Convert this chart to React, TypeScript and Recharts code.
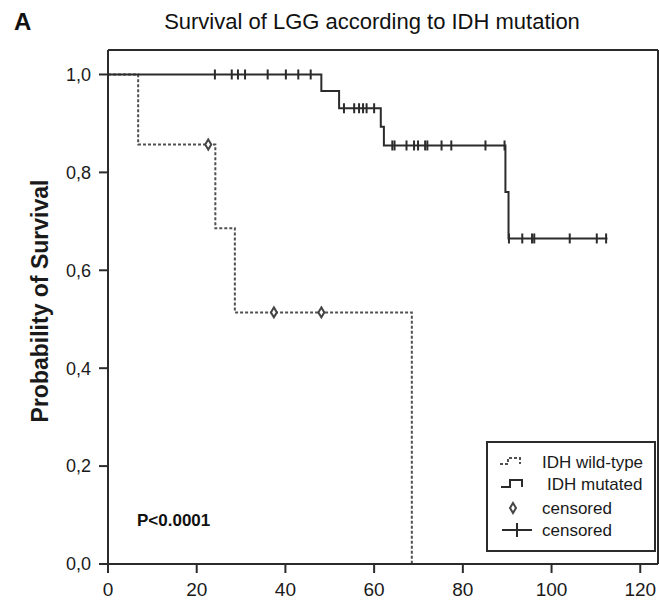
import { ComposedChart, Line, Scatter, XAxis, YAxis, ReferenceLine } from "recharts"

// Kaplan-Meier steps (months / survival)
const wildTimes = [0, 6.8, 24.2, 28.6, 68.5]
const wildSurv = [1, 0.857, 0.686, 0.514, 0]
const wildCensored = [22.6, 37.4, 48.1]

const mutTimes = [0, 48.1, 52.1, 61.5, 62.2, 89.6, 90.3, 112.6]
const mutSurv = [1, 0.966, 0.931, 0.893, 0.855, 0.76, 0.665, 0.665]
const mutCensored = [
  24.1, 27.9, 29.3, 30.9, 36.0, 40.1, 42.9, 45.7, 53.2, 55.5, 56.6, 57.5, 58.3, 60.0,
  64.1, 64.6, 67.3, 69.0, 69.9, 71.5, 72.0, 75.2, 77.4, 85.1, 89.4, 90.4, 93.4, 95.6,
  96.1, 104.1, 110.2, 112.3,
]

const xTicks = [0, 20, 40, 60, 80, 100, 120]
const yTicks = [0, 0.2, 0.4, 0.6, 0.8, 1.0]

const stepAt = (times: number[], surv: number[], t: number) => {
  let v = surv[0]
  for (let i = 0; i < times.length; i++) if (times[i] <= t) v = surv[i]
  return v
}

const wildData = wildTimes.map((x, i) => ({ x, y: wildSurv[i] }))
const mutData = mutTimes.map((x, i) => ({ x, y: mutSurv[i] }))
const wildCens = wildCensored.map((x) => ({ x, y: stepAt(wildTimes, wildSurv, x) }))
const mutCens = mutCensored.map((x) => ({ x, y: stepAt(mutTimes, mutSurv, x) }))

const FONT = "'Liberation Sans', Arial, sans-serif"
const INK = "#2b2b2b"

const Plus = (p: any) => (
  <line x1={p.cx} x2={p.cx} y1={p.cy - 5} y2={p.cy + 5} stroke={INK} strokeWidth={2} />
)
const Diamond = (p: any) => (
  <path
    d={`M${p.cx},${p.cy - 5} L${p.cx + 3},${p.cy} L${p.cx},${p.cy + 5} L${p.cx - 3},${p.cy} Z`}
    fill="#fff"
    stroke="#444"
    strokeWidth={2}
  />
)

export default function App() {
  return (
    <div style={{ position: "absolute", left: 0, top: 0, width: 659, height: 603, background: "#fff" }}>
      <ComposedChart width={659} height={603} margin={{ top: 50, right: 1, bottom: 0, left: 0 }}>
        <XAxis
          dataKey="x"
          type="number"
          domain={[0, 124]}
          ticks={xTicks}
          height={39}
          tickSize={9}
          tickMargin={10}
          axisLine={{ stroke: INK, strokeWidth: 2 }}
          tickLine={{ stroke: INK, strokeWidth: 2 }}
          tick={{ fill: "#1a1a1a", fontSize: 19, fontFamily: FONT }}
          allowDuplicatedCategory={false}
        />
        <YAxis
          type="number"
          domain={[0, 1.05]}
          ticks={yTicks}
          width={108}
          tickSize={9}
          tickMargin={8}
          axisLine={{ stroke: INK, strokeWidth: 2 }}
          tickLine={{ stroke: INK, strokeWidth: 2 }}
          tick={{ fill: "#1a1a1a", fontSize: 18, fontFamily: FONT }}
          tickFormatter={(v: number) => v.toFixed(1).replace(".", ",")}
        />
        <ReferenceLine y={1.05} stroke={INK} strokeWidth={2} />
        <ReferenceLine x={124} stroke={INK} strokeWidth={2} />
        <Line
          data={wildData}
          dataKey="y"
          type="stepAfter"
          stroke="#505050"
          strokeWidth={2}
          strokeDasharray="3 2"
          dot={false}
          isAnimationActive={false}
        />
        <Line
          data={mutData}
          dataKey="y"
          type="stepAfter"
          stroke={INK}
          strokeWidth={2}
          dot={false}
          isAnimationActive={false}
        />
        <Scatter data={wildCens} dataKey="y" shape={Diamond} isAnimationActive={false} />
        <Scatter data={mutCens} dataKey="y" shape={Plus} isAnimationActive={false} />
      </ComposedChart>
      <svg
        width={659}
        height={603}
        style={{ position: "absolute", left: 0, top: 0, pointerEvents: "none" }}
        fontFamily={FONT}
      >
        <text x={14} y={30} fontSize={24} fontWeight="bold" fill="#111">A</text>
        <text x={372} y={29} fontSize={22} textAnchor="middle" fill="#111">
          Survival of LGG according to IDH mutation
        </text>
        <text
          transform="translate(48,301) rotate(-90)"
          textAnchor="middle"
          fontSize={23}
          fontWeight="bold"
          fill="#1a1a1a"
        >
          Probability of Survival
        </text>
        <text x={137} y={526} fontSize={17} fontWeight="bold" fill="#111">
          P&lt;0.0001
        </text>
        <rect x={487} y={442} width={168} height={109} fill="#fff" stroke={INK} strokeWidth={2} />
        <path d="M500,464 L508,464 L508,458 L520,458 L520,464" fill="none" stroke="#505050" strokeWidth={2} strokeDasharray="3 2" />
        <text x={542} y={468} fontSize={17} fill="#1a1a1a">IDH wild-type</text>
        <path d="M501,487 L510,487 L510,480 L522,480 L522,487" fill="none" stroke={INK} strokeWidth={2} />
        <text x={547} y={490} fontSize={17} fill="#1a1a1a">IDH mutated</text>
        <path d="M513,503 L516,508 L513,513 L510,508 Z" fill="#fff" stroke="#444" strokeWidth={2} />
        <text x={542} y={514} fontSize={17} fill="#1a1a1a">censored</text>
        <line x1={502} x2={532} y1={530} y2={530} stroke={INK} strokeWidth={2} />
        <line x1={517} x2={517} y1={523} y2={537} stroke={INK} strokeWidth={2} />
        <text x={542} y={536} fontSize={17} fill="#1a1a1a">censored</text>
      </svg>
    </div>
  )
}
